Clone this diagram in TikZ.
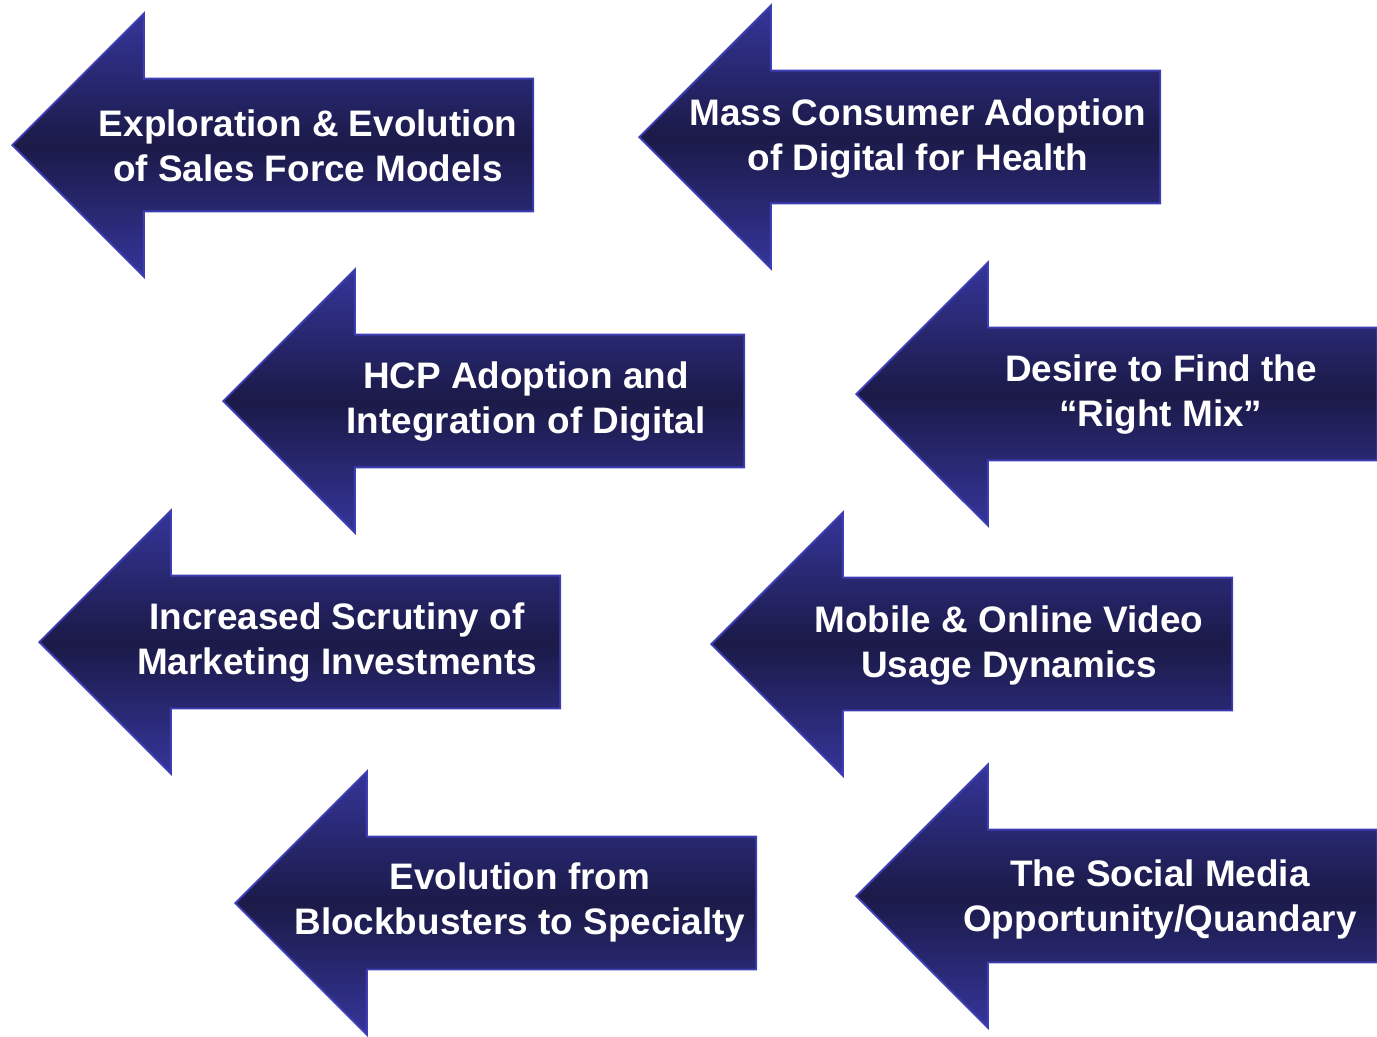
\documentclass[tikz,border=0pt]{standalone}
\usepackage{fontspec}
\setmainfont{Liberation Sans}
\usepackage{tikz}
\usetikzlibrary{shapes.arrows, positioning}
\definecolor{navyLight}{HTML}{35359A}
\definecolor{navyDark}{HTML}{1B1A48}
\definecolor{navyEdge}{HTML}{3D3DB4}

\begin{document}
\begin{tikzpicture}[
            x=0.02cm, y=-0.02cm,
                leftArrow/.style = {single arrow, shape border rotate=180,
                            draw=navyEdge, line width=1.1pt,
                            top color=navyLight, bottom color=navyLight,
                            middle color=navyDark,
                            text height=1.31cm, text depth=1.31cm,
                            minimum height=10.42cm,
                            single arrow head extend=1.30cm,
                            single arrow tip angle=90, inner sep=0pt,
                            anchor=tip},
                arrowText/.style = {text=white, align=center,
                            font=\bfseries\fontsize{21}{25.6}\selectfont},
            ]
            \useasboundingbox (0,0) rectangle (1377,1036);
            % left column
            \node (a1) [leftArrow] at (11,145) {};
            \node (t1) [arrowText] at (308,146) {
                Exploration \& Evolution \\
                of Sales Force Models
            };
            \node (a3) [leftArrow] at (222,401) {};
            \node (t3) [arrowText] at (526,402) {
                HCP Adoption and \\
                Integration of Digital
            };
            \node (a5) [leftArrow] at (38,642) {};
            \node (t5) [arrowText] at (337,643) {
                Increased Scrutiny of \\
                Marketing Investments
            };
            \node (a7) [leftArrow] at (234,903) {};
            \node (t7) [arrowText] at (520,902) {
                Evolution from \\
                Blockbusters to Specialty
            };
            % right column
            \node (a2) [leftArrow] at (638,137) {};
            \node (t2) [arrowText] at (918,139) {
                Mass Consumer Adoption \\
                of Digital for Health
            };
            \node (a4) [leftArrow] at (855,394) {};
            \node (t4) [arrowText] at (1161,395) {
                Desire to Find the \\
                ``Right Mix''
            };
            \node (a6) [leftArrow] at (710,644) {};
            \node (t6) [arrowText] at (1009,646) {
                Mobile \& Online Video \\
                Usage Dynamics
            };
            \node (a8) [leftArrow] at (855,896) {};
            \node (t8) [arrowText] at (1160,899) {
                The Social Media \\
                Opportunity/Quandary
            };
        \end{tikzpicture}
\end{document}
